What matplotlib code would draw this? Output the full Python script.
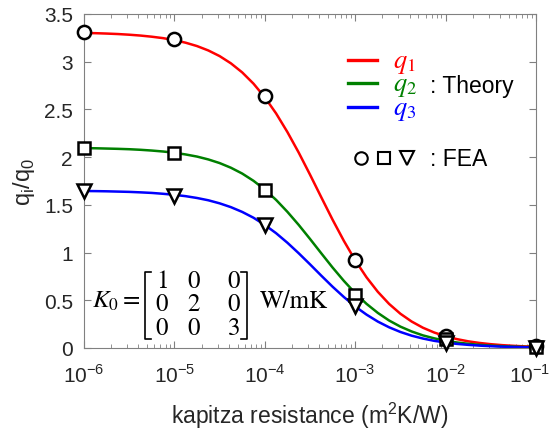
import matplotlib.pyplot as plt
import matplotlib.transforms as mtransforms
from matplotlib.lines import Line2D

log_r = [-6 + 0.125 * i for i in range(41)]
q1_theory = [3.301, 3.299, 3.295, 3.290, 3.283, 3.274, 3.262, 3.247,
             3.226, 3.199, 3.164, 3.118, 3.059, 2.983, 2.888, 2.770,
             2.627, 2.458, 2.263, 2.048, 1.817, 1.579, 1.344, 1.122,
             0.919, 0.741, 0.589, 0.462, 0.359, 0.277, 0.212, 0.162,
             0.123, 0.093, 0.070, 0.053, 0.040, 0.030, 0.023, 0.017, 0.013]
q2_theory = [2.094, 2.093, 2.090, 2.087, 2.083, 2.077, 2.069, 2.059,
             2.046, 2.028, 2.006, 1.976, 1.938, 1.889, 1.828, 1.752,
             1.660, 1.552, 1.427, 1.290, 1.143, 0.992, 0.843, 0.703,
             0.575, 0.463, 0.368, 0.288, 0.224, 0.173, 0.132, 0.101,
             0.076, 0.058, 0.044, 0.033, 0.025, 0.019, 0.014, 0.011, 0.008]
q3_theory = [1.645, 1.644, 1.642, 1.639, 1.636, 1.631, 1.625, 1.616,
             1.605, 1.591, 1.572, 1.548, 1.516, 1.476, 1.426, 1.365,
             1.290, 1.203, 1.103, 0.993, 0.877, 0.758, 0.642, 0.534,
             0.435, 0.350, 0.277, 0.217, 0.168, 0.129, 0.099, 0.075,
             0.057, 0.043, 0.033, 0.025, 0.019, 0.014, 0.011, 0.008, 0.006]

# FEA points
fea_r = [1e-6, 1e-5, 1e-4, 1e-3, 1e-2, 1e-1]
q1_fea = [3.31, 3.24, 2.64, 0.92, 0.13, 0.02]
q2_fea = [2.10, 2.04, 1.66, 0.56, 0.09, 0.01]
q3_fea = [1.65, 1.59, 1.29, 0.44, 0.05, 0.005]

xtick_exp = [-6, -5, -4, -3, -2, -1]
ytick_vals = [0, 0.5, 1, 1.5, 2, 2.5, 3, 3.5]

plt.rcParams['font.family'] = ['Liberation Sans', 'DejaVu Sans']

W, H = 554, 431


def px(x, y):
    return x / W, 1 - y / H


fig = plt.figure(figsize=(W / 100, H / 100), dpi=100)
ax = fig.add_axes([84 / W, 1 - 349 / H, (536 - 84) / W, (349 - 15) / H])

r = [10 ** e for e in log_r]
ax.plot(r, q1_theory, color='#ff0000', lw=1.8, zorder=2)
ax.plot(r, q2_theory, color='#008000', lw=1.8, zorder=2)
ax.plot(r, q3_theory, color='#0000ff', lw=1.8, zorder=2)

mk = dict(ls='none', mfc='white', mec='black', mew=1.8, clip_on=False, zorder=3)
ax.plot(fea_r, q1_fea, marker='o', ms=9.5, **mk)
ax.plot(fea_r, q2_fea, marker='s', ms=9, **mk)
ax.plot(fea_r, q3_fea, marker='v', ms=10, **mk)

ax.set_xscale('log')
ax.set_xlim(1e-6, 1e-1)
ax.set_ylim(0, 3.5)
ax.set_xticks([10.0 ** e for e in xtick_exp])
ax.set_xticklabels(['10$^{\\mathregular{%d}}$' % e for e in xtick_exp])
ax.set_yticks(ytick_vals)
ax.set_yticklabels(['%g' % v for v in ytick_vals])

for s in ax.spines.values():
    s.set_color('#808080')
    s.set_linewidth(0.8)
ax.tick_params(which='both', direction='in', top=True, right=True,
               colors='#808080', labelcolor='#262626', labelsize=15)
ax.tick_params(which='major', length=5)
ax.tick_params(which='minor', length=3)
ax.tick_params(axis='y', pad=8)
ax.tick_params(axis='x', pad=11)

# nudge the last x label so it stays inside the figure
last = ax.get_xticklabels()[-1]
last.set_transform(last.get_transform() +
                   mtransforms.ScaledTranslation(-6 / 100, 0, fig.dpi_scale_trans))

ax.set_xlabel('kapitza resistance (m$^{\\mathregular{2}}$K/W)', fontsize=16.5,
              color='#262626', labelpad=10)
ax.set_ylabel('q$_{\\mathregular{i}}$/q$_{\\mathregular{0}}$', fontsize=17,
              color='#262626', labelpad=5)

# legend drawn by hand
leg_lines = [(61, '#ff0000', '$q_1$'), (84, '#008000', '$q_2$'), (108, '#0000ff', '$q_3$')]
for y, c, lab in leg_lines:
    x0, y0 = px(348, y)
    x1, _ = px(377, y)
    fig.add_artist(Line2D([x0, x1], [y0, y0], color=c, lw=2.4, transform=fig.transFigure))
    fig.text(*px(393, y + 3), lab, color=c, fontsize=19, math_fontfamily='stix',
             va='center', ha='left')
fig.text(*px(430, 87), ': Theory', fontsize=16.5, va='center', ha='left', color='black')

for x, m, ms in [(361, 'o', 9), (384, 's', 8.5), (407, 'v', 9.5)]:
    fig.add_artist(Line2D([x / W], [1 - 159 / H], marker=m, ms=ms, mfc='white',
                          mec='black', mew=1.5, ls='none', transform=fig.transFigure))
fig.text(*px(430, 159), ': FEA', fontsize=16.5, va='center', ha='left', color='black')

# K0 matrix annotation
serif = dict(fontsize=18, math_fontfamily='stix', family='STIXGeneral',
             va='center', color='black')
fig.text(*px(92, 302), '$K_0$', ha='left', **serif)
fig.text(*px(131, 301), '=', ha='center', **serif)
for row, vals in enumerate([['1', '0', '0'], ['0', '2', '0'], ['0', '0', '3']]):
    for col, v in enumerate(vals):
        fig.text(*px([162, 194, 234][col], 282 + 23.3 * row), v, ha='center', **serif)
fig.text(*px(260, 302), 'W/mK', ha='left', **serif)

ytop, ybot = 273, 340
for xb, xs in [(145, 151), (247, 241)]:
    pts = [px(xs, ytop), px(xb, ytop), px(xb, ybot), px(xs, ybot)]
    fig.add_artist(Line2D([p[0] for p in pts], [p[1] for p in pts], color='black',
                          lw=1.2, transform=fig.transFigure))

fig.savefig('out.png', dpi=100)
